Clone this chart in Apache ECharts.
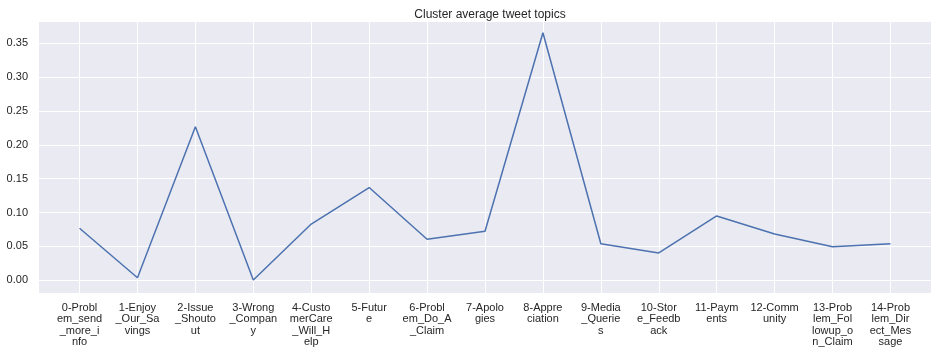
<!DOCTYPE html>
<html>
<head>
<meta charset="utf-8">
<script src="https://cdn.jsdelivr.net/npm/echarts@6/dist/echarts.min.js"></script>
<style>
  html, body { margin: 0; padding: 0; background: #fff; }
  #myChart { width: 944px; height: 354px; }
</style>
</head>
<body>
<div id="myChart"></div>
<script>
// topic labels, already wrapped the way the picture shows them
const categories = [
  '0-Probl\nem_send\n_more_i\nnfo',
  '1-Enjoy\n_Our_Sa\nvings',
  '2-Issue\n_Shouto\nut',
  '3-Wrong\n_Compan\ny',
  '4-Custo\nmerCare\n_Will_H\nelp',
  '5-Futur\ne',
  '6-Probl\nem_Do_A\n_Claim',
  '7-Apolo\ngies',
  '8-Appre\nciation',
  '9-Media\n_Querie\ns',
  '10-Stor\ne_Feedb\nack',
  '11-Paym\nents',
  '12-Comm\nunity',
  '13-Prob\nlem_Fol\nlowup_o\nn_Claim',
  '14-Prob\nlem_Dir\nect_Mes\nsage'
];
const avgValues = [0.0768, 0.0038, 0.2268, 0.0004, 0.083, 0.137, 0.0605, 0.0724,
  0.3657, 0.054, 0.0403, 0.095, 0.0684, 0.0496, 0.054];
const yTicks = [0, 0.05, 0.10, 0.15, 0.20, 0.25, 0.30, 0.35];

const xTicks = categories.map((c, i) => i);
const textColor = '#262626';

let myChart = echarts.init(document.getElementById('myChart'));
let option = {
  animation: false,
  title: {
    text: 'Cluster average tweet topics',
    left: 485,
    textAlign: 'center',
    top: 4,
    textStyle: { fontFamily: 'Liberation Sans', fontSize: 12, fontWeight: 'normal', color: textColor }
  },
  grid: { left: 39, right: 13, top: 22, bottom: 61, show: true, backgroundColor: '#EAEAF2', borderWidth: 0 },
  xAxis: {
    type: 'value',
    min: -0.7,
    max: 14.7,
    axisLine: { show: false },
    axisTick: { show: false, customValues: xTicks },
    splitLine: { show: true, lineStyle: { color: '#fff', width: 1 } },
    axisLabel: {
      customValues: xTicks,
      margin: 9,
      fontFamily: 'Liberation Sans',
      fontSize: 11,
      lineHeight: 11.5,
      color: textColor,
      align: 'center',
      formatter: v => categories[Math.round(v)] || ''
    }
  },
  yAxis: {
    type: 'value',
    min: -0.0188,
    max: 0.3815,
    axisLine: { show: false },
    axisTick: { show: false, customValues: yTicks },
    splitLine: { show: true, lineStyle: { color: '#fff', width: 1 } },
    axisLabel: {
      customValues: yTicks,
      margin: 11,
      fontFamily: 'Liberation Sans',
      fontSize: 11,
      color: textColor,
      formatter: v => v.toFixed(2)
    }
  },
  series: [{
    type: 'line',
    data: avgValues.map((v, i) => [i, v]),
    showSymbol: false,
    lineStyle: { color: '#4C72B0', width: 1.5 },
    itemStyle: { color: '#4C72B0' }
  }]
};
myChart.setOption(option);
</script>
</body>
</html>
